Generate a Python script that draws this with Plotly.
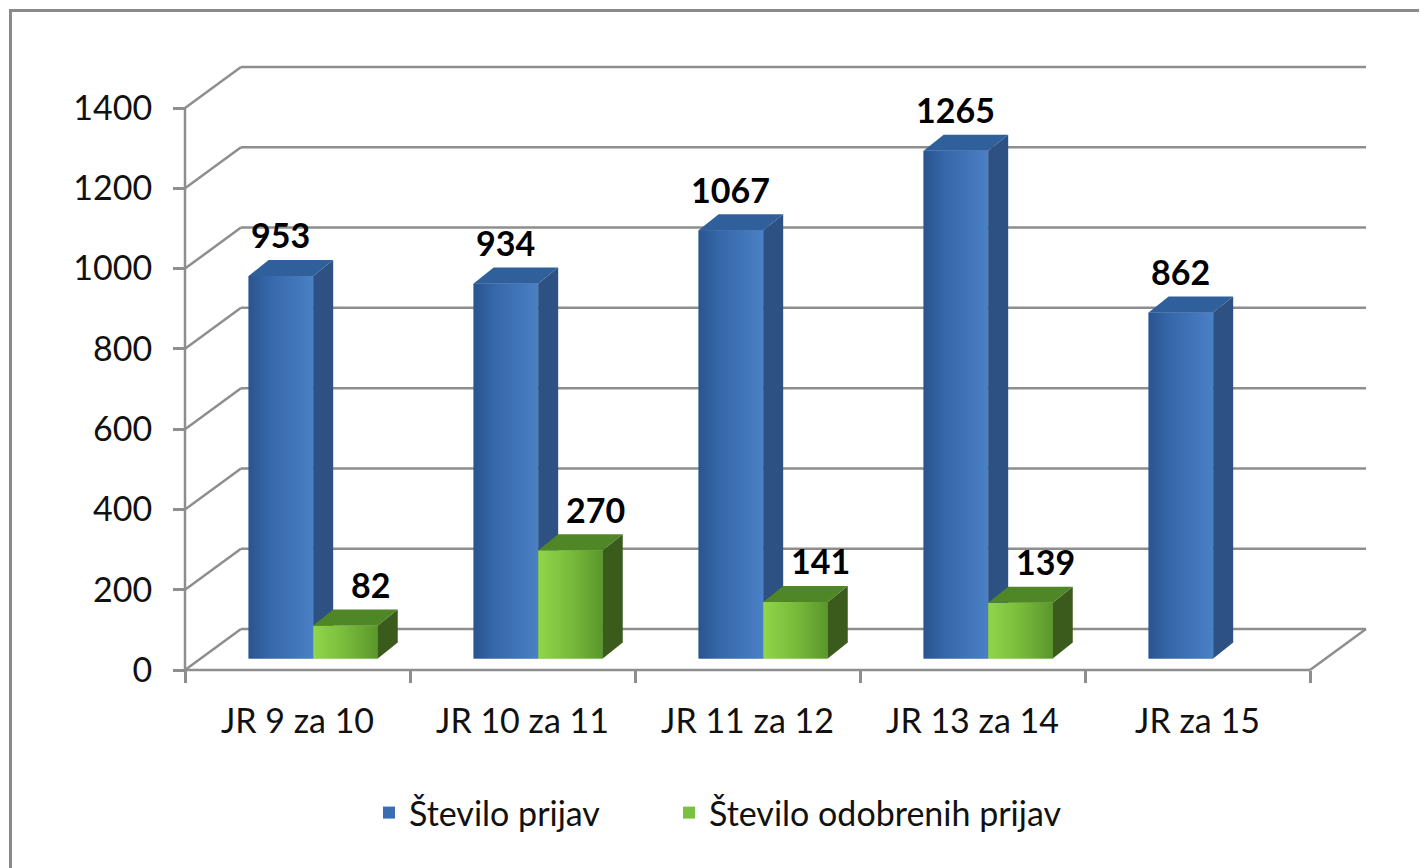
import plotly.graph_objects as go

# ---------------- data ----------------
categories = ["JR 9 za 10", "JR 10 za 11", "JR 11 za 12", "JR 13 za 14", "JR za 15"]
stevilo_prijav = [953, 934, 1067, 1265, 862]
stevilo_odobrenih = [82, 270, 141, 139, None]
series_names = ["Število prijav", "Število odobrenih prijav"]
y_ticks = [0, 200, 400, 600, 800, 1000, 1200, 1400]

# ---------------- geometry (page pixels -> axis units) ----------------
PAGE_W, PAGE_H = 1427, 868
BODY = 8                                # default body margin of the html page
W, H = PAGE_W - BODY, PAGE_H - BODY
PX_PER_CAT = 225.0
PX_PER_UNIT = 562.0 / 1400.0
X0_PX, Y0_PX = 185.0, 670.0            # front-left corner of the floor (page px)
PL, PR, PT, PB = 170.0, 1380.0, 55.0, 690.0   # plot area (page px)

def cx(px):
    return (px - X0_PX) / PX_PER_CAT - 0.5

def cy(py):
    return (Y0_PX - py) / PX_PER_UNIT

def paper_x(px):
    return (px - PL) / (PR - PL)

def paper_y(py):
    return 1 - (py - PT) / (PB - PT)

DX = 56.0 / PX_PER_CAT       # depth of the chart (back wall offset)
DY = 41.0 / PX_PER_UNIT
F = 0.28                      # depth position of the bars' front plane
BAR_W = 0.287
BDX = 20.0 / PX_PER_CAT       # bar depth
BDY = 16.0 / PX_PER_UNIT
BASE = F * DY
XOFF = F * DX

FONT = "Lato"
GRID = "#8e8e8e"
TXT = "#111111"

blue = dict(front=[[0, "#2a548d"], [0.3, "#3566a8"], [1, "#4a80c5"]],
            side="#2c5182", top="#30609c", legend="#3b6db1")
green = dict(front=[[0, "#90d64a"], [0.5, "#78bb3b"], [1, "#5a962b"]],
             side="#3a5b1b", top="#4f8626", legend="#7ac142")

fig = go.Figure()

# plain bars (front faces) – carry the legend
fig.add_trace(go.Bar(x=[i + XOFF for i in range(len(categories))], y=stevilo_prijav,
                     base=BASE, width=BAR_W, offset=-BAR_W, name=series_names[0],
                     marker=dict(color=blue["legend"], line=dict(width=0)), hoverinfo="skip",
                     legend="legend"))
fig.add_trace(go.Bar(x=[i + XOFF for i in range(len(categories))], y=stevilo_odobrenih,
                     base=BASE, width=BAR_W, offset=0, name=series_names[1],
                     marker=dict(color=green["legend"], line=dict(width=0)), hoverinfo="skip",
                     legend="legend2"))

def poly(xs, ys, **kw):
    fig.add_trace(go.Scatter(x=xs + [xs[0]], y=ys + [ys[0]], mode="lines", fill="toself",
                             line=dict(width=0), showlegend=False, hoverinfo="skip", **kw))

annotations = []
for i, cat in enumerate(categories):
    for s, (vals, col, x0) in enumerate([(stevilo_prijav, blue, i + XOFF - BAR_W),
                                         (stevilo_odobrenih, green, i + XOFF)]):
        v = vals[i]
        if v is None:
            continue
        x1 = x0 + BAR_W
        y0, y1 = BASE, BASE + v
        # front face with gradient
        poly([x0, x1, x1, x0], [y0, y0, y1, y1], fillcolor=col["front"][1][1],
             fillgradient=dict(type="horizontal", colorscale=col["front"]))
        # side face
        poly([x1, x1 + BDX, x1 + BDX, x1], [y0, y0 + BDY, y1 + BDY, y1], fillcolor=col["side"])
        # top face
        poly([x0, x1, x1 + BDX, x0 + BDX], [y1, y1, y1 + BDY, y1 + BDY], fillcolor=col["top"])
        annotations.append(dict(x=(x0 + x1) / 2, y=y1, xref="x", yref="y", text=str(v),
                                showarrow=False, yshift=41, xshift=(0 if s == 0 else 25),
                                yanchor="middle", xanchor="center",
                                font=dict(family=FONT, size=34, color="#000000", weight="bold")))

# ---------------- walls / floor / gridlines ----------------
shapes = []
def line(xa, ya, xb, yb, w=2.5):
    shapes.append(dict(type="line", xref="x", yref="y", x0=xa, y0=ya, x1=xb, y1=yb,
                       line=dict(color=GRID, width=w), layer="below"))

n = len(categories)
for v in y_ticks:
    line(-0.5 + DX, v + DY, n - 0.5 + DX, v + DY)   # back wall
    line(-0.5, v, -0.5 + DX, v + DY)                # side wall
line(-0.5, 0, -0.5, y_ticks[-1])                    # value axis line
line(-0.5, 0, n - 0.5, 0)                           # category axis line
line(n - 0.5, 0, n - 0.5 + DX, DY)                  # floor right edge

# outer border of the chart area
shapes.append(dict(type="rect", xref="paper", yref="paper",
                   x0=paper_x(10.5), y0=paper_y(10.5), x1=paper_x(1460), y1=paper_y(900),
                   line=dict(color="#8a8a8a", width=3), fillcolor="rgba(0,0,0,0)", layer="above"))

leg_common = dict(orientation="h", y=paper_y(813), yanchor="middle", xanchor="left",
                  font=dict(family=FONT, size=34, color=TXT), bgcolor="rgba(0,0,0,0)")

fig.update_layout(
    width=W, height=H, autosize=False,
    margin=dict(l=PL - BODY, r=PAGE_W - PR, t=PT - BODY, b=PAGE_H - PB, pad=0),
    paper_bgcolor="white", plot_bgcolor="white",
    barmode="overlay",
    shapes=shapes, annotations=annotations,
    font=dict(family=FONT, size=34, color=TXT),
    xaxis=dict(range=[cx(PL), cx(PR)], anchor="free", position=paper_y(Y0_PX),
               showgrid=False, zeroline=False, showline=False,
               tickmode="array", tickvals=list(range(n)), ticktext=categories,
               ticks="", ticklabelstandoff=28,
               tickfont=dict(family=FONT, size=34, color=TXT),
               minor=dict(tickmode="array", tickvals=[i - 0.5 for i in range(n + 1)],
                          ticks="outside", ticklen=12, tickwidth=2.5, tickcolor=GRID, showgrid=False),
               fixedrange=True),
    yaxis=dict(range=[cy(PB), cy(PT)], anchor="free", position=paper_x(X0_PX),
               showgrid=False, zeroline=False, showline=False,
               tickmode="array", tickvals=y_ticks,
               ticks="outside", ticklen=12, tickwidth=2.5, tickcolor=GRID,
               ticklabelstandoff=14,
               tickfont=dict(family=FONT, size=34, color=TXT),
               fixedrange=True),
    legend=dict(x=paper_x(369), **leg_common),
    legend2=dict(x=paper_x(669), **leg_common),
    showlegend=True,
)

fig.write_html("out.html")
